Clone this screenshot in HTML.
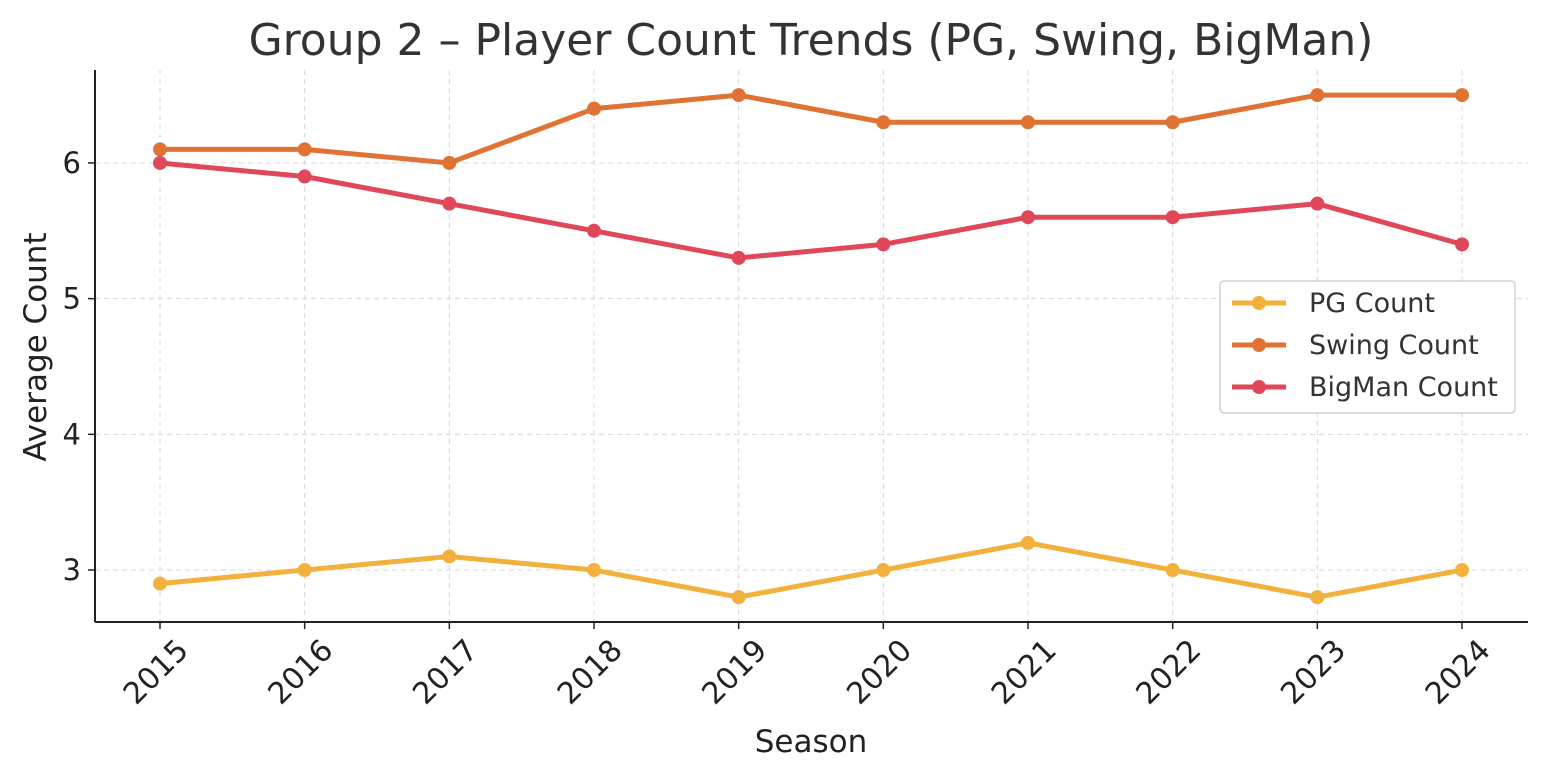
<!DOCTYPE html>
<html><head><meta charset="utf-8"><style>
html,body{margin:0;padding:0;background:#fff;}
svg{display:block;font-family:"DejaVu Sans","Liberation Sans",sans-serif;}
</style></head><body>
<svg id="chart" width="1548" height="780" viewBox="0 0 1548 780">
<text x="811" y="55" font-size="44" fill="#333" text-anchor="middle">Group 2 – Player Count Trends (PG, Swing, BigMan)</text>
<g id="grid"></g>
<g id="axes"></g>
<g id="series"></g>
<text x="811" y="752" font-size="31" fill="#222" text-anchor="middle">Season</text>
<text x="0" y="0" font-size="31" fill="#222" text-anchor="middle" transform="translate(46,347) rotate(-90)">Average Count</text>
<g id="legend"></g>
</svg>
<script>
const seasons=[2015,2016,2017,2018,2019,2020,2021,2022,2023,2024];
const pgCount=[2.9,3.0,3.1,3.0,2.8,3.0,3.2,3.0,2.8,3.0];
const swingCount=[6.1,6.1,6.0,6.4,6.5,6.3,6.3,6.3,6.5,6.5];
const bigmanCount=[6.0,5.9,5.7,5.5,5.3,5.4,5.6,5.6,5.7,5.4];
const yTicks=[3,4,5,6];
const seriesNames=["PG Count","Swing Count","BigMan Count"];

const NS="http://www.w3.org/2000/svg";
const colors=["#f2b03d","#e07234","#e0485a"];
const L=95,R=1528,T=70,B=622;
const yMin=2.617,yMax=6.685;
function xs(i){return 160+i*(1462-160)/(seasons.length-1);}
function ys(v){return B-(v-yMin)/(yMax-yMin)*(B-T);}
function mk(tag,attrs,parent){const e=document.createElementNS(NS,tag);for(const k in attrs)e.setAttribute(k,attrs[k]);parent.appendChild(e);return e;}
const grid=document.getElementById('grid'),axes=document.getElementById('axes'),ser=document.getElementById('series'),leg=document.getElementById('legend');
seasons.forEach((s,i)=>{
  const g=mk('line',{x1:xs(i),x2:xs(i),y1:T,y2:B,stroke:'#d8d8d8','stroke-width':1,'stroke-dasharray':'5,4'},grid);
  
  
  const tk=mk('line',{x1:xs(i),x2:xs(i),y1:B,y2:B+7,stroke:'#222','stroke-width':1.5},axes);
  
  
  const t=mk('text',{x:0,y:0,'font-size':30,fill:'#222','text-anchor':'end',transform:`translate(${xs(i)+30},${B+30}) rotate(-45)`},axes);
  t.textContent=s;
  
  
});
yTicks.forEach(v=>{
  const g=mk('line',{x1:L,x2:R,y1:ys(v),y2:ys(v),stroke:'#d8d8d8','stroke-width':1,'stroke-dasharray':'5,4'},grid);
  
  
  const tk=mk('line',{x1:L-7,x2:L,y1:ys(v),y2:ys(v),stroke:'#222','stroke-width':1.5},axes);
  
  
  const t=mk('text',{x:L-14,y:ys(v)+10,'font-size':29,fill:'#222','text-anchor':'end'},axes);
  t.textContent=v;
  
  
});
const sp1=mk('line',{x1:L,x2:L,y1:T,y2:B,stroke:'#222','stroke-width':2},axes);


const sp2=mk('line',{x1:L,x2:R,y1:B,y2:B,stroke:'#222','stroke-width':2},axes);


[pgCount,swingCount,bigmanCount].forEach((d,si)=>{
  const p=mk('polyline',{points:d.map((v,i)=>xs(i)+','+ys(v)).join(' '),fill:'none',stroke:colors[si],'stroke-width':5,'stroke-linejoin':'round'},ser);
  
  
  d.forEach((v,i)=>{
    const c=mk('circle',{cx:xs(i),cy:ys(v),r:7,fill:colors[si]},ser);
    
    
  });
});
const box=mk('rect',{x:1220,y:281,width:295,height:132,rx:4,fill:'#fff','fill-opacity':0.85,stroke:'#d0d0d0','stroke-width':1.5},leg);


seriesNames.forEach((n,i)=>{
  const y=303+i*42;
  const l=mk('line',{x1:1232,x2:1286,y1:y,y2:y,stroke:colors[i],'stroke-width':5},leg);
  
  
  const c=mk('circle',{cx:1259,cy:y,r:7,fill:colors[i]},leg);
  
  
  const t=mk('text',{x:1309,y:y+9,'font-size':27,fill:'#333'},leg);
  t.textContent=n;
  
  
});
</script>
</body></html>
